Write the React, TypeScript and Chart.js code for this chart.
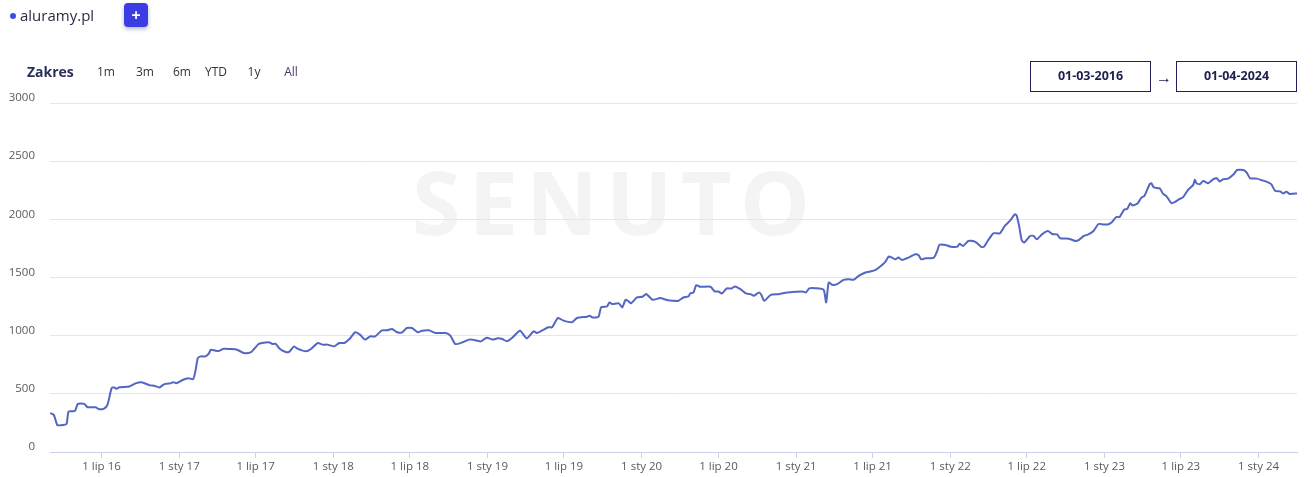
import React, { useEffect, useRef } from "react";
import { Chart, registerables } from "chart.js";

Chart.register(...registerables);

const domain = "aluramy.pl";
const rangeLabel = "Zakres";
const rangeButtons = ["1m", "3m", "6m", "YTD", "1y", "All"];
const dateFrom = "01-03-2016";
const dateTo = "01-04-2024";
const xMin = "2016-03-01";
const xMax = "2024-04-01";

const xTickDates = [
  "2016-07-01", "2017-01-01", "2017-07-01", "2018-01-01", "2018-07-01", "2019-01-01",
  "2019-07-01", "2020-01-01", "2020-07-01", "2021-01-01", "2021-07-01", "2022-01-01",
  "2022-07-01", "2023-01-01", "2023-07-01", "2024-01-01",
];
const xTickLabels = [
  "1 lip 16", "1 sty 17", "1 lip 17", "1 sty 18", "1 lip 18", "1 sty 19",
  "1 lip 19", "1 sty 20", "1 lip 20", "1 sty 21", "1 lip 21", "1 sty 22",
  "1 lip 22", "1 sty 23", "1 lip 23", "1 sty 24",
];
const yMin = 0;
const yMax = 3000;
const yStep = 500;

const dates = [
  "2016-03-01","2016-03-10","2016-03-18","2016-03-26","2016-04-09","2016-04-14","2016-04-29","2016-05-06",
  "2016-05-21","2016-05-29","2016-06-17","2016-06-25","2016-07-07","2016-07-15","2016-07-25","2016-07-31",
  "2016-08-06","2016-08-12","2016-09-05","2016-09-21","2016-10-06","2016-10-22","2016-11-03","2016-11-15",
  "2016-11-27","2016-12-13","2016-12-18","2016-12-26","2017-01-10","2017-01-22","2017-02-03","2017-02-09",
  "2017-02-14","2017-02-21","2017-03-04","2017-03-12","2017-03-17","2017-03-28","2017-04-05","2017-04-16",
  "2017-05-02","2017-05-18","2017-06-03","2017-06-19","2017-06-27","2017-07-08","2017-07-16","2017-08-01",
  "2017-08-10","2017-08-17","2017-08-27","2017-09-10","2017-09-18","2017-09-30","2017-10-08","2017-10-28",
  "2017-11-09","2017-11-25","2017-12-06","2017-12-18","2018-01-03","2018-01-15","2018-01-27","2018-02-08",
  "2018-02-22","2018-03-05","2018-03-17","2018-03-29","2018-04-10","2018-04-26","2018-05-08","2018-05-20",
  "2018-06-01","2018-06-13","2018-06-24","2018-07-06","2018-07-20","2018-07-30","2018-08-15","2018-08-31",
  "2018-09-24","2018-10-05","2018-10-17","2018-11-03","2018-11-18","2018-11-26","2018-12-16","2018-12-30",
  "2019-01-13","2019-01-25","2019-02-05","2019-02-16","2019-02-27","2019-03-19","2019-04-04","2019-04-20",
  "2019-04-28","2019-05-13","2019-05-25","2019-06-03","2019-06-17","2019-06-30","2019-07-20","2019-08-01",
  "2019-08-25","2019-08-31","2019-09-06","2019-09-21","2019-09-27","2019-10-11","2019-10-17","2019-10-23",
  "2019-11-08","2019-11-16","2019-11-24","2019-12-01","2019-12-07","2019-12-21","2020-01-03","2020-01-12",
  "2020-01-27","2020-02-14","2020-03-01","2020-03-16","2020-03-28","2020-04-09","2020-04-21","2020-04-25",
  "2020-05-03","2020-05-09","2020-05-19","2020-06-12","2020-06-22","2020-07-01","2020-07-09","2020-07-21",
  "2020-08-01","2020-08-09","2020-08-22","2020-09-04","2020-09-15","2020-09-23","2020-10-05","2020-10-11",
  "2020-10-17","2020-11-02","2020-11-21","2020-12-11","2020-12-31","2021-01-16","2021-01-24","2021-02-01",
  "2021-02-16","2021-03-07","2021-03-13","2021-03-19","2021-03-27","2021-04-08","2021-04-23","2021-05-05",
  "2021-05-17","2021-05-29","2021-06-14","2021-06-26","2021-07-07","2021-07-19","2021-07-31","2021-08-08",
  "2021-08-16","2021-08-24","2021-08-31","2021-09-09","2021-09-24","2021-10-10","2021-10-18","2021-10-24",
  "2021-11-03","2021-11-23","2021-12-01","2021-12-06","2021-12-20","2022-01-02","2022-01-18","2022-01-23",
  "2022-01-31","2022-02-13","2022-02-24","2022-03-04","2022-03-16","2022-03-22","2022-04-01","2022-04-13",
  "2022-04-28","2022-05-10","2022-05-22","2022-06-03","2022-06-07","2022-06-13","2022-06-19","2022-06-25",
  "2022-07-09","2022-07-17","2022-07-25","2022-08-06","2022-08-20","2022-08-30","2022-09-11","2022-09-18",
  "2022-10-08","2022-10-24","2022-11-01","2022-11-13","2022-11-24","2022-12-06","2022-12-18","2022-12-30",
  "2023-01-11","2023-01-19","2023-01-29","2023-02-06","2023-02-17","2023-02-24","2023-03-03","2023-03-09",
  "2023-03-21","2023-03-29","2023-04-06","2023-04-18","2023-04-22","2023-04-28","2023-05-12","2023-05-20",
  "2023-05-28","2023-06-09","2023-06-16","2023-06-28","2023-07-06","2023-07-18","2023-07-30","2023-08-03",
  "2023-08-07","2023-08-15","2023-08-23","2023-09-04","2023-09-16","2023-09-24","2023-10-01","2023-10-09",
  "2023-10-21","2023-11-03","2023-11-11","2023-11-26","2023-12-04","2023-12-12","2023-12-28","2024-01-09",
  "2024-01-21","2024-01-31","2024-02-09","2024-02-21","2024-02-28","2024-03-07","2024-03-15","2024-04-01",
];

const values = [
  335, 319, 233, 230, 241, 348, 353, 414,
  414, 385, 385, 368, 373, 405, 549, 555,
  543, 557, 563, 592, 598, 575, 569, 555,
  583, 592, 600, 592, 621, 635, 626, 707,
  807, 822, 822, 845, 879, 871, 868, 888,
  885, 879, 851, 856, 885, 928, 937, 943,
  928, 931, 888, 860, 860, 908, 888, 865,
  885, 937, 923, 923, 908, 937, 937, 971,
  1029, 1009, 966, 994, 994, 1046, 1046, 1057,
  1029, 1029, 1066, 1066, 1029, 1043, 1046, 1023,
  1023, 1000, 928, 943, 966, 966, 951, 983,
  966, 977, 971, 951, 977, 1043, 977, 1037,
  1023, 1049, 1072, 1072, 1152, 1129, 1115, 1152,
  1163, 1172, 1157, 1163, 1243, 1252, 1286, 1272,
  1278, 1243, 1309, 1295, 1278, 1329, 1335, 1358,
  1309, 1323, 1306, 1300, 1300, 1328, 1337, 1363,
  1371, 1434, 1420, 1420, 1380, 1380, 1363, 1406,
  1406, 1423, 1400, 1363, 1357, 1343, 1371, 1348,
  1300, 1351, 1357, 1371, 1377, 1380, 1371, 1406,
  1408, 1394, 1285, 1457, 1437, 1443, 1480, 1486,
  1480, 1514, 1543, 1552, 1563, 1594, 1635, 1680,
  1671, 1656, 1671, 1651, 1671, 1699, 1691, 1656,
  1665, 1671, 1728, 1780, 1780, 1765, 1765, 1791,
  1771, 1814, 1814, 1800, 1762, 1765, 1822, 1880,
  1880, 1943, 1986, 2043, 2034, 1943, 1822, 1800,
  1857, 1857, 1828, 1871, 1900, 1874, 1871, 1837,
  1834, 1814, 1822, 1857, 1871, 1900, 1960, 1955,
  1958, 1977, 2020, 2020, 2085, 2090, 2138, 2119,
  2138, 2184, 2203, 2302, 2311, 2274, 2266, 2218,
  2198, 2138, 2147, 2175, 2189, 2254, 2294, 2339,
  2311, 2302, 2330, 2311, 2345, 2353, 2325, 2345,
  2350, 2387, 2424, 2424, 2401, 2353, 2350, 2336,
  2322, 2302, 2246, 2240, 2223, 2237, 2218, 2223,
];

const watermarkText = "SENUTO";
const FONT = "'Open Sans', 'Noto Sans', sans-serif";

const watermarkPlugin = {
  id: "watermark",
  beforeDraw(chart: any) {
    const { ctx, chartArea } = chart;
    ctx.save();
    ctx.fillStyle = "#f4f4f4";
    ctx.font = `700 88px ${FONT}`;
    ctx.textBaseline = "alphabetic";
    const letters = watermarkText.split("");
    const widths = letters.map((l) => ctx.measureText(l).width);
    const total = 398;
    const gap = (total - widths.reduce((a, b) => a + b, 0)) / (letters.length - 1);
    const left = chartArea.left + 362;
    let x = left;
    const baseline = chartArea.top + 132;
    letters.forEach((l, i) => {
      ctx.fillText(l, x, baseline);
      x += widths[i] + gap;
    });
    ctx.restore();
  },
};

function LineChart() {
  const ref = useRef<HTMLCanvasElement | null>(null);
  useEffect(() => {
    if (!ref.current) return;
    const chart = new Chart(ref.current, {
      type: "line",
      data: {
        datasets: [
          {
            label: domain,
            data: dates.map((d, i) => ({ x: Date.parse(d), y: values[i] })),
            borderColor: "#5465c2",
            backgroundColor: "#5465c2",
            borderWidth: 2,
            pointRadius: 0,
            tension: 0.2,
            fill: false,
          },
        ],
      },
      options: {
        animation: false,
        responsive: false,
        maintainAspectRatio: false,
        layout: { padding: { top: 103, right: 16, left: 0, bottom: 0 } },
        plugins: { legend: { display: false }, tooltip: { enabled: false } },
        scales: {
          x: {
            type: "linear",
            min: Date.parse(xMin),
            max: Date.parse(xMax),
            afterBuildTicks: (scale: any) => {
              scale.ticks = xTickDates.map((d) => ({ value: Date.parse(d) }));
            },
            afterFit: (scale: any) => {
              scale.height = 25;
            },
            grid: {
              drawOnChartArea: false,
              drawTicks: true,
              tickLength: 6,
              tickColor: "#c9d1ea",
              color: "#c9d1ea",
            },
            border: { display: true, color: "#c9d1ea", width: 1 },
            ticks: {
              autoSkip: false,
              maxRotation: 0,
              padding: 2,
              color: "#5a5a5a",
              font: { family: FONT, size: 11.5 },
              callback: (_v: any, i: number) => xTickLabels[i],
            },
          },
          y: {
            min: yMin,
            max: yMax,
            afterFit: (scale: any) => {
              scale.width = 50;
            },
            grid: {
              drawTicks: false,
              color: (c: any) => (c.tick && c.tick.value === 0 ? "rgba(0,0,0,0)" : "#e6e6e6"),
            },
            border: { display: false },
            ticks: {
              stepSize: yStep,
              padding: 15,
              labelOffset: -5,
              color: "#5a5a5a",
              font: { family: FONT, size: 11.5 },
              callback: (v: any) => String(v),
            },
          },
        },
      },
      plugins: [watermarkPlugin],
    });
    return () => chart.destroy();
  }, []);
  return <canvas ref={ref} width={1313} height={477} style={{ position: "absolute", left: 0, top: 0, width: 1313, height: 477 }} />;
}

export default function App() {
  useEffect(() => {
    document.body.style.margin = "0";
  }, []);
  const btnX = [106, 145, 182, 216, 254, 291];
  return (
    <div style={{ position: "fixed", left: 0, top: 0, width: 1313, height: 477, background: "#fff", fontFamily: FONT, overflow: "hidden" }}>
      <LineChart />
      <div style={{ position: "absolute", left: 10, top: 12.5, width: 6, height: 6, borderRadius: 3, background: "#3a4ee0" }} />
      <div style={{ position: "absolute", left: 20, top: 4, fontSize: 15, lineHeight: "22px", color: "#2b2b45" }}>{domain}</div>
      <div
        style={{
          position: "absolute", left: 124, top: 3, width: 24, height: 24, borderRadius: 4, background: "#3b3de3",
          boxShadow: "0 2px 4px rgba(40,40,120,0.35)", color: "#fff", fontWeight: 700, fontSize: 16,
          lineHeight: "24px", textAlign: "center",
        }}
      >
        +
      </div>
      <div style={{ position: "absolute", left: 27, top: 62, fontSize: 14, fontWeight: 700, lineHeight: "20px", color: "#2a2f5c" }}>{rangeLabel}</div>
      {rangeButtons.map((b, i) => (
        <div
          key={b}
          style={{
            position: "absolute", left: btnX[i] - 20, width: 40, top: 63, textAlign: "center", fontSize: 12,
            lineHeight: "18px", color: b === "All" ? "#4a3462" : "#333",
          }}
        >
          {b}
        </div>
      ))}
      {[dateFrom, dateTo].map((d, i) => (
        <div
          key={d}
          style={{
            position: "absolute", left: i === 0 ? 1030 : 1176, top: 61, width: 121, height: 31, boxSizing: "border-box",
            border: "1.5px solid #1f1f5a", fontSize: 12.5, fontWeight: 700, color: "#1e1e50", textAlign: "center",
            lineHeight: "28px",
          }}
        >
          {d}
        </div>
      ))}
      <div style={{ position: "absolute", left: 1156, top: 66, fontSize: 16, lineHeight: "22px", color: "#1e1e50" }}>→</div>
    </div>
  );
}
